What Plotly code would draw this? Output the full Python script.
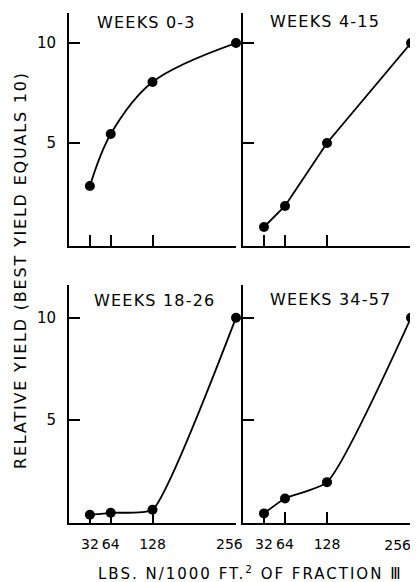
import plotly.graph_objects as go

# Data
nitrogen = [32, 64, 128, 256]
NB = "\u00a0"
tick_labels_left = ["32", "64", "128", "256" + NB * 3]
tick_labels_right = ["32", "64", "128"]
last_tick = [256]
last_tick_label = ["256"]
panel_titles = ["WEEKS 0-3", "WEEKS 4-15", "WEEKS 18-26", "WEEKS 34-57"]
yield_w0_3 = [2.85, 5.45, 8.05, 10.0]
yield_w4_15 = [0.8, 1.85, 5.0, 10.0]
yield_w18_26 = [0.35, 0.45, 0.6, 10.0]
yield_w34_57 = [0.42, 1.15, 1.95, 10.0]
y_ticks = [5, 10]
y_tick_labels = ["5", "10"]

OFF = 8  # page body margin
W, H = 418 - OFF, 582 - OFF
FONT = "DejaVu Sans"


def px_x(p):
    return (p - OFF) / W


def px_y(p):
    return 1 - (p - OFF) / H


def ls(text, sp):
    return f'<span style="letter-spacing:{sp}px">{text}</span>'


series = [yield_w0_3, yield_w4_15, yield_w18_26, yield_w34_57]
shapes = ["spline", "linear", "spline", "spline"]
smooth = [1.0, 0, 0.45, 0.55]

fig = go.Figure()
for i, (vals, shp, sm) in enumerate(zip(series, shapes, smooth)):
    n = "" if i == 0 else str(i + 1)
    line = dict(color="black", width=1.8, shape=shp)
    if shp == "spline":
        line["smoothing"] = sm
    fig.add_trace(go.Scatter(
        x=nitrogen, y=vals, mode="lines+markers",
        line=line, marker=dict(color="black", size=10),
        xaxis="x" + n, yaxis="y" + n, cliponaxis=False, showlegend=False,
    ))

xdoms = [[px_x(69), px_x(236)], [px_x(243), px_x(411)]]
ydoms = [[px_y(246), px_y(13)], [px_y(523), px_y(285)]]
yranges = [[-0.15, 11.5], [-0.05, 11.6]]

layout = dict(
    width=W, height=H, template="none",
    paper_bgcolor="white", plot_bgcolor="white",
    margin=dict(l=0, r=0, t=0, b=0),
    showlegend=False,
    font=dict(family=FONT, color="black"),
)

tickfont_x = dict(family=FONT, size=14, color="black")
for i in range(4):
    n = "" if i == 0 else str(i + 1)
    row, col = divmod(i, 2)
    if col == 0:
        tv, tt = nitrogen, tick_labels_left
    else:
        tv, tt = nitrogen, tick_labels_right + [""]
    layout["xaxis" + n] = dict(
        domain=xdoms[col], range=[0, 256], anchor="y" + n,
        tickvals=tv, ticktext=tt, tickangle=0,
        showticklabels=(row == 1), ticklabeloverflow="allow",
        ticks="inside", ticklen=11, tickwidth=1.5, tickcolor="black",
        showline=True, linewidth=2, linecolor="black",
        showgrid=False, zeroline=False, automargin=False,
        tickfont=tickfont_x, ticklabelstandoff=7,
    )
    layout["yaxis" + n] = dict(
        domain=ydoms[row], range=yranges[row], anchor="x" + n,
        tickvals=y_ticks, ticktext=y_tick_labels, tickangle=0,
        showticklabels=(col == 0), ticklabeloverflow="allow",
        ticks="inside", ticklen=11, tickwidth=1.5, tickcolor="black",
        showline=True, linewidth=2, linecolor="black",
        showgrid=False, zeroline=False, automargin=False,
        tickfont=dict(family=FONT, size=15, color="black"),
        ticklabelstandoff=8,
    )

# label for the last tick of the lower-right panel, right-aligned at its tick
layout["xaxis5"] = dict(
    domain=xdoms[1], range=[0, 256], anchor="free", position=px_y(528),
    overlaying="x4",
    tickvals=last_tick, ticktext=last_tick_label, tickangle=0,
    ticklabelposition="outside left", ticklabeloverflow="allow",
    ticks="", showline=False, showgrid=False, zeroline=False,
    automargin=False, tickfont=tickfont_x, ticklabelstandoff=7,
)
fig.add_trace(go.Scatter(x=[], y=[], xaxis="x5", yaxis="y4", showlegend=False))

title_pos = [(95, 22), (268, 21), (92, 300), (268, 299)]
annotations = []
for t, (x, y) in zip(panel_titles, title_pos):
    annotations.append(dict(
        text=ls(t, 1.2), x=px_x(x), y=px_y(y), xref="paper", yref="paper",
        xanchor="left", yanchor="middle", showarrow=False,
        font=dict(family=FONT, size=16, color="black"),
    ))

annotations.append(dict(
    text=ls("RELATIVE YIELD (BEST YIELD EQUALS 10)", 1.8),
    x=px_x(20), y=px_y(270), xref="paper", yref="paper",
    xanchor="center", yanchor="middle", textangle=-90, showarrow=False,
    font=dict(family=FONT, size=16, color="black"),
))
annotations.append(dict(
    text=ls("LBS. N/1000 FT.<sup>2</sup> OF FRACTION Ⅲ", 2.0),
    x=px_x(250), y=px_y(573), xref="paper", yref="paper",
    xanchor="center", yanchor="middle", showarrow=False,
    font=dict(family=FONT, size=15, color="black"),
))
layout["annotations"] = annotations

fig.update_layout(**layout)
fig.write_html("out.html")
